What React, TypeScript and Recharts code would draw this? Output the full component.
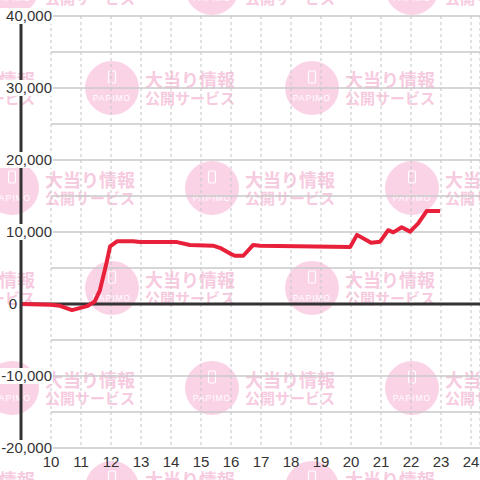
import { LineChart, Line, XAxis, YAxis, CartesianGrid, ReferenceLine } from 'recharts';

// hour of day and running balance
const hours = [9, 10, 10.3, 10.7, 11.2, 11.45, 11.63, 11.85, 11.97, 12.2, 12.73, 12.97, 14.2, 14.63, 15.4, 15.63, 15.97, 16.13, 16.41, 16.74, 16.97, 19.97, 20.2, 20.67, 20.97, 21.24, 21.41, 21.69, 21.97, 22.24, 22.52, 22.97];
const balance = [0, -100, -250, -850, -300, 300, 1900, 5700, 8000, 8700, 8700, 8600, 8600, 8200, 8100, 7800, 7000, 6700, 6700, 8200, 8100, 7900, 9600, 8500, 8650, 10250, 9950, 10650, 10050, 11200, 12900, 12900];

const hourTicks = [10, 11, 12, 13, 14, 15, 16, 17, 18, 19, 20, 21, 22, 23, 24];
const valueTicks = [-20000, -10000, 0, 10000, 20000, 30000, 40000];
const gridValues = [-20000, -15000, -10000, -5000, 5000, 10000, 15000, 20000, 25000, 30000, 35000, 40000];

const data = hours.map((h, i) => ({ h, v: balance[i] }));

const FONT = '"Liberation Sans", Arial, sans-serif';

function YTick(props: any) {
    const { y, payload } = props;
    const isZero = payload.value === 0;
    const right = isZero ? 17 : 52;
    const label = payload.value.toLocaleString('en-US');
    return (
        <g>
            {!isZero && <rect x={0} y={y - 8} width={53} height={16} fill='#fff' />}
            <text x={right} y={y} dy='0.35em' textAnchor='end' fontSize={15} fontFamily={FONT} fill='#333'>{label}</text>
        </g>
    );
}

function Watermark() {
    const rows = [-12, 88, 188, 288, 388, 488];
    const items: any[] = [];
    rows.forEach((cy, r) => {
        const xs = r % 2 === 0 ? [12, 212, 412] : [-88, 112, 312];
        xs.forEach((cx) => {
            items.push(
                <g key={`${cx}-${cy}`}>
                    <circle cx={cx} cy={cy} r={27} fill='#fbd3e7' />
                    <rect x={cx - 3.5} y={cy - 17} width={7} height={12} rx={1.5} fill='none' stroke='#fff' strokeWidth={1.1} />
                    <text x={cx} y={cy + 13} textAnchor='middle' fontSize={8.5} letterSpacing={1} fill='#fff' fontFamily={FONT}>PAPIMO</text>
                    <text x={cx + 33} y={cy - 7} dy='0.35em' fontSize={18} fontWeight='bold' fill='#f7cbdf' fontFamily='"Noto Sans CJK JP", sans-serif'>大当り情報</text>
                    <text x={cx + 33} y={cy + 11} dy='0.35em' fontSize={15} fontWeight='bold' fill='#f7cbdf' fontFamily='"Noto Sans CJK JP", sans-serif'>公開サービス</text>
                </g>
            );
        });
    });
    return (
        <svg width={480} height={480} style={{ position: 'absolute', left: 0, top: 0 }}>
            {items}
        </svg>
    );
}

export default function App() {
    return (
        <div style={{ position: 'absolute', left: 0, top: 0, width: 480, height: 480, background: '#fff', overflow: 'hidden' }}>
            <Watermark />
            <div style={{ position: 'absolute', left: 0, top: 0 }}>
                <LineChart width={480} height={480} data={data} margin={{ top: 16, right: 0, bottom: 0, left: 0 }}>
                    <CartesianGrid horizontal={false} stroke='#c4c4c4' strokeDasharray='3 3' />
                    {gridValues.map((g) => (
                        <ReferenceLine key={g} segment={[{ x: 10, y: g }, { x: 24.3, y: g }]} stroke='#c8c8c8' strokeWidth={1.3} />
                    ))}
                    <XAxis type='number' dataKey='h' domain={[9, 24.3]} ticks={hourTicks} allowDataOverflow
                        axisLine={false} tickLine={false} height={32} interval={0}
                        tick={{ fontSize: 15, fill: '#333', fontFamily: FONT }} />
                    <YAxis type='number' domain={[-20000, 40000]} ticks={valueTicks} width={21} interval={0}
                        axisLine={{ stroke: '#333', strokeWidth: 3 }} tickLine={false} tick={YTick} />
                    <ReferenceLine y={0} stroke='#333' strokeWidth={3} />
                    <Line type='linear' dataKey='v' stroke='#e8203a' strokeWidth={4} dot={false} strokeLinejoin='round' isAnimationActive={false} />
                </LineChart>
            </div>
        </div>
    );
}
